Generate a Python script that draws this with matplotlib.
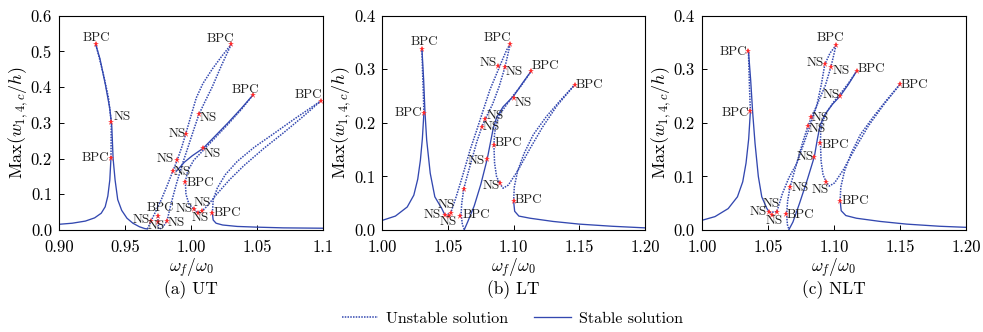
import matplotlib
matplotlib.use('Agg')
import matplotlib.pyplot as plt
from matplotlib.lines import Line2D

plt.rcParams['font.family'] = 'serif'
plt.rcParams['font.serif'] = ['cmr10']
plt.rcParams['mathtext.fontset'] = 'cm'
plt.rcParams['axes.unicode_minus'] = False

# ---------------- data: panel (a) UT ----------------
a_primary_x = [0.900, 0.910, 0.920, 0.927, 0.932, 0.935, 0.937, 0.9385, 0.9394]
a_primary_y = [0.016, 0.019, 0.025, 0.034, 0.047, 0.065, 0.095, 0.140, 0.203]
a_peak_u_x = [0.9394, 0.9396, 0.9375, 0.9340, 0.9300, 0.9278]
a_peak_u_y = [0.203, 0.302, 0.370, 0.430, 0.490, 0.5196]
a_peak_s_x = [0.9278, 0.9310, 0.9350, 0.9385, 0.9400, 0.9410, 0.9425, 0.9445, 0.9475, 0.9515, 0.9560, 0.9610, 0.9650, 0.9670]
a_peak_s_y = [0.5196, 0.480, 0.410, 0.340, 0.290, 0.200, 0.140, 0.085, 0.055, 0.033, 0.019, 0.009, 0.004, 0.003]
a_loop1l_x = [0.9670, 0.9697, 0.9730, 0.9775, 0.9820, 0.9864, 0.9896, 0.9930, 0.9960, 1.0000, 1.0040, 1.0090, 1.0160, 1.0230, 1.0305]
a_loop1l_y = [0.003, 0.025, 0.050, 0.085, 0.125, 0.166, 0.196, 0.232, 0.269, 0.320, 0.370, 0.410, 0.450, 0.485, 0.520]
a_loop1r_x = [1.0305, 1.0230, 1.0160, 1.0100, 1.0060, 1.0020, 0.9980, 0.9935, 0.9890, 0.9850, 0.9818, 0.9790, 0.9765]
a_loop1r_y = [0.520, 0.460, 0.400, 0.355, 0.3235, 0.280, 0.235, 0.185, 0.130, 0.075, 0.025, 0.010, 0.003]
a_stub_x = [0.9755, 0.9750, 0.9750]
a_stub_y = [0.003, 0.023, 0.039]
a_loop2a_x = [0.9890, 0.9950, 1.0010, 1.0093, 1.0180, 1.0280, 1.0380, 1.0472]
a_loop2a_y = [0.165, 0.190, 0.208, 0.229, 0.262, 0.300, 0.340, 0.379]
a_loop2b_x = [0.9957, 0.9975, 1.0020, 1.0090, 1.0180, 1.0280, 1.0380, 1.0472]
a_loop2b_y = [0.135, 0.165, 0.195, 0.222, 0.257, 0.296, 0.337, 0.379]
a_loop3a_x = [0.9957, 0.9962, 0.9985, 1.0023, 1.0050, 1.0080, 1.0120, 1.0190, 1.0290, 1.0400, 1.0550, 1.0700, 1.0850, 1.0982]
a_loop3a_y = [0.135, 0.100, 0.072, 0.058, 0.049, 0.052, 0.066, 0.098, 0.140, 0.180, 0.228, 0.272, 0.318, 0.361]
a_loop3b_x = [1.0162, 1.0168, 1.0200, 1.0260, 1.0350, 1.0480, 1.0620, 1.0780, 1.0982]
a_loop3b_y = [0.047, 0.085, 0.118, 0.155, 0.192, 0.232, 0.268, 0.310, 0.361]
a_tail_x = [1.0162, 1.0168, 1.0190, 1.0240, 1.0350, 1.0500, 1.0700, 1.1000]
a_tail_y = [0.047, 0.028, 0.019, 0.014, 0.010, 0.008, 0.006, 0.005]
a_pts_x = [0.9278, 0.9394, 0.9394, 1.0305, 1.0472, 1.0982, 1.0060, 0.9960, 1.0093, 0.9896,
           0.9864, 0.9957, 1.0023, 1.0050, 1.0080, 1.0162, 0.9697, 0.9750, 0.9750, 0.9818]
a_pts_y = [0.5196, 0.302, 0.203, 0.520, 0.379, 0.361, 0.3235, 0.269, 0.229, 0.196,
           0.166, 0.135, 0.058, 0.049, 0.052, 0.047, 0.025, 0.039, 0.023, 0.025]
a_pts_lab = ['BPC', 'NS', 'BPC', 'BPC', 'BPC', 'BPC', 'NS', 'NS', 'NS', 'NS',
             'NS', 'BPC', 'NS', 'NS', 'NS', 'BPC', 'NS', 'BPC', 'NS', 'NS']

# ---------------- data: panel (b) LT ----------------
b_primary_x = [1.000, 1.010, 1.019, 1.024, 1.027, 1.029, 1.0305, 1.0317]
b_primary_y = [0.018, 0.026, 0.043, 0.065, 0.095, 0.130, 0.170, 0.219]
b_peak_u_x = [1.0317, 1.0312, 1.0306, 1.0302]
b_peak_u_y = [0.219, 0.260, 0.300, 0.337]
b_peak_s_x = [1.0302, 1.0315, 1.0325, 1.0338, 1.0365, 1.0400, 1.0452, 1.0477]
b_peak_s_y = [0.337, 0.280, 0.220, 0.168, 0.106, 0.062, 0.0405, 0.028]
b_loop1l_x = [1.0477, 1.0520, 1.0560, 1.0610, 1.0668, 1.0720, 1.0769, 1.0820, 1.0871, 1.0910, 1.0947, 1.0975]
b_loop1l_y = [0.028, 0.031, 0.060, 0.100, 0.149, 0.187, 0.224, 0.262, 0.292, 0.315, 0.336, 0.348]
b_loop1r_x = [1.0975, 1.0934, 1.0890, 1.0840, 1.0784, 1.0759, 1.0720, 1.0680, 1.0640, 1.0620, 1.0605, 1.0600, 1.0610, 1.0625]
b_loop1r_y = [0.348, 0.304, 0.268, 0.235, 0.207, 0.193, 0.165, 0.130, 0.095, 0.076, 0.050, 0.030, 0.010, 0.001]
b_rise_x = [1.0625, 1.0650, 1.0700, 1.0750, 1.0799, 1.0825, 1.0845, 1.0870, 1.0920, 1.1000, 1.1070, 1.1135]
b_rise_y = [0.001, 0.015, 0.045, 0.085, 0.1325, 0.165, 0.190, 0.210, 0.230, 0.250, 0.275, 0.297]
b_loop2_x = [1.0850, 1.0855, 1.0870, 1.0900, 1.0950, 1.1000, 1.1060, 1.1135]
b_loop2_y = [0.158, 0.180, 0.200, 0.218, 0.235, 0.252, 0.270, 0.297]
b_loop3a_x = [1.0850, 1.0855, 1.0870, 1.0894, 1.0920, 1.0960, 1.1030, 1.1120, 1.1220, 1.1330, 1.1465]
b_loop3a_y = [0.158, 0.125, 0.100, 0.087, 0.078, 0.084, 0.110, 0.150, 0.192, 0.232, 0.271]
b_loop3b_x = [1.1000, 1.1005, 1.1030, 1.1080, 1.1150, 1.1250, 1.1360, 1.1465]
b_loop3b_y = [0.0535, 0.080, 0.110, 0.143, 0.178, 0.212, 0.243, 0.271]
b_tail_x = [1.1000, 1.1008, 1.1040, 1.1125, 1.1300, 1.1500, 1.1750, 1.2000]
b_tail_y = [0.0535, 0.035, 0.026, 0.022, 0.016, 0.011, 0.007, 0.004]
b_pts_x = [1.0302, 1.0317, 1.0975, 1.0881, 1.0934, 1.1135, 1.1465, 1.1000, 1.0784, 1.0759,
           1.0850, 1.0799, 1.0894, 1.1000, 1.0620, 1.0592, 1.0477, 1.0520, 1.0505]
b_pts_y = [0.337, 0.219, 0.348, 0.307, 0.304, 0.297, 0.271, 0.246, 0.207, 0.193,
           0.158, 0.1325, 0.087, 0.0535, 0.076, 0.0267, 0.028, 0.031, 0.026]
b_pts_lab = ['BPC', 'BPC', 'BPC', 'NS', 'NS', 'BPC', 'BPC', 'NS', 'NS', 'NS',
             'BPC', 'NS', 'NS', 'BPC', '', 'BPC', 'NS', 'NS', 'NS']

# ---------------- data: panel (c) NLT ----------------
c_primary_x = [1.000, 1.010, 1.020, 1.027, 1.031, 1.0335, 1.0355, 1.0368]
c_primary_y = [0.018, 0.025, 0.040, 0.062, 0.090, 0.125, 0.170, 0.222]
c_peak_u_x = [1.0368, 1.0362, 1.0357, 1.0353]
c_peak_u_y = [0.222, 0.260, 0.300, 0.335]
c_peak_s_x = [1.0353, 1.0370, 1.0385, 1.0403, 1.0428, 1.0454, 1.0492, 1.0512]
c_peak_s_y = [0.335, 0.280, 0.220, 0.162, 0.100, 0.062, 0.0405, 0.033]
c_loop1l_x = [1.0512, 1.0568, 1.0610, 1.0660, 1.0718, 1.0770, 1.0820, 1.0870, 1.0905, 1.0931, 1.0970, 1.1016]
c_loop1l_y = [0.033, 0.034, 0.068, 0.098, 0.124, 0.160, 0.195, 0.232, 0.272, 0.309, 0.330, 0.345]
c_loop1r_x = [1.1016, 1.0978, 1.0935, 1.0880, 1.0830, 1.0805, 1.0765, 1.0725, 1.0690, 1.0668, 1.0650, 1.0642, 1.0648, 1.0660]
c_loop1r_y = [0.345, 0.305, 0.270, 0.238, 0.210, 0.195, 0.165, 0.130, 0.100, 0.080, 0.055, 0.029, 0.010, 0.001]
c_rise_x = [1.0660, 1.0690, 1.0740, 1.0800, 1.0852, 1.0875, 1.0895, 1.0930, 1.0990, 1.1047, 1.1110, 1.1173]
c_rise_y = [0.001, 0.015, 0.050, 0.095, 0.137, 0.170, 0.195, 0.215, 0.235, 0.250, 0.272, 0.297]
c_loop2_x = [1.0898, 1.0900, 1.0915, 1.0945, 1.0995, 1.1050, 1.1110, 1.1173]
c_loop2_y = [0.162, 0.185, 0.203, 0.220, 0.238, 0.255, 0.274, 0.297]
c_loop3a_x = [1.0898, 1.0903, 1.0918, 1.0941, 1.0965, 1.1005, 1.1070, 1.1160, 1.1260, 1.1380, 1.1500]
c_loop3a_y = [0.162, 0.128, 0.103, 0.090, 0.082, 0.088, 0.112, 0.152, 0.194, 0.235, 0.272]
c_loop3b_x = [1.1047, 1.1052, 1.1080, 1.1130, 1.1200, 1.1300, 1.1400, 1.1500]
c_loop3b_y = [0.0547, 0.080, 0.110, 0.143, 0.178, 0.212, 0.243, 0.272]
c_tail_x = [1.1047, 1.1055, 1.1090, 1.1170, 1.1350, 1.1550, 1.1800, 1.2000]
c_tail_y = [0.0547, 0.036, 0.027, 0.022, 0.016, 0.011, 0.007, 0.005]
c_pts_x = [1.0353, 1.0368, 1.1016, 1.0931, 1.0978, 1.1173, 1.1500, 1.1047, 1.0830, 1.0805,
           1.0898, 1.0852, 1.0941, 1.1047, 1.0668, 1.0638, 1.0512, 1.0568, 1.0535]
c_pts_y = [0.335, 0.222, 0.345, 0.309, 0.305, 0.297, 0.272, 0.250, 0.210, 0.195,
           0.162, 0.137, 0.090, 0.0547, 0.080, 0.029, 0.033, 0.034, 0.028]
c_pts_lab = ['BPC', 'BPC', 'BPC', 'NS', 'NS', 'BPC', 'BPC', 'NS', 'NS', 'NS',
             'BPC', 'NS', 'NS', 'BPC', 'NS', 'BPC', 'NS', 'NS', 'NS']

# ticks / labels
a_xticks = [0.90, 0.95, 1.00, 1.05, 1.10]
a_xticklabels = ['0.90', '0.95', '1.00', '1.05', '1.1']
bc_xticks = [1.00, 1.05, 1.10, 1.15, 1.20]
bc_xticklabels = ['1.00', '1.05', '1.10', '1.15', '1.20']
a_yticks = [0.0, 0.1, 0.2, 0.3, 0.4, 0.5, 0.6]
bc_yticks = [0.0, 0.1, 0.2, 0.3, 0.4]
panel_titles = ['(a) UT', '(b) LT', '(c) NLT']

# ---------------- layout / style (not data) ----------------
LINE_C = '#3348b0'
MARK_C = '#ff2a2a'
SOLID = dict(color=LINE_C, lw=0.95, ls='-')
DOTTED = dict(color=LINE_C, lw=1.1, ls=(0, (1, 0.8)))

# label offsets (pixels, up positive) relative to marker
a_off = [(1, 6.7), (11.7, 5), (-15.3, -0.7), (-10.7, 5), (-7.7, 5), (-12.3, 5.7), (9.7, -3), (-8.7, 0),
         (9, -6), (-11.7, 0.7), (9, -1), (14.7, -1), (-9.7, 0), (2.7, -5.3), (1, 8.7), (14.7, 0),
         (-9.7, 1), (2.7, 7.7), (-1.3, -4.3), (9.7, -2)]
b_off = [(2, 7.7), (-15.3, -0.7), (-13, 6), (-10, 2.7), (9.3, -4.7), (14.3, 5), (14.3, 0), (9.7, -4.3),
         (9.7, 3), (9.7, -0.7), (15, 2), (-10.7, -1.7), (-8, -2.7), (15.3, 1), (0, 0), (16.3, 0.7),
         (-12.3, 0), (-4.7, 8.7), (0, -5.6)]
c_off = [(-14.7, -1), (-15, -2.3), (-5.7, 7), (-9.7, 1.7), (10.7, -4.7), (14.7, 1.7), (14, -0.7),
         (-9, 1.3), (8.7, -0.7), (9, -3.7), (14.7, -1.7), (-9.3, 0), (-6, -7.7), (15.3, 0),
         (10.3, -0.7), (14.3, -0.7), (-11, 0), (-5.7, 8.3), (1.9, -6)]

panels = [
    dict(curves=[(a_primary_x, a_primary_y, SOLID), (a_peak_u_x, a_peak_u_y, DOTTED),
                 (a_peak_s_x, a_peak_s_y, SOLID), (a_loop1l_x, a_loop1l_y, DOTTED),
                 (a_loop1r_x, a_loop1r_y, DOTTED), (a_stub_x, a_stub_y, DOTTED),
                 (a_loop2a_x, a_loop2a_y, SOLID), (a_loop2b_x, a_loop2b_y, DOTTED),
                 (a_loop3a_x, a_loop3a_y, DOTTED), (a_loop3b_x, a_loop3b_y, DOTTED),
                 (a_tail_x, a_tail_y, SOLID)],
         px=a_pts_x, py=a_pts_y, lab=a_pts_lab, off=a_off,
         xlim=(0.90, 1.10), ylim=(0.0, 0.6), xt=a_xticks, xtl=a_xticklabels, yt=a_yticks,
         rect=[0.0600, 0.3072, 0.2686, 0.6455]),
    dict(curves=[(b_primary_x, b_primary_y, SOLID), (b_peak_u_x, b_peak_u_y, DOTTED),
                 (b_peak_s_x, b_peak_s_y, SOLID), (b_loop1l_x, b_loop1l_y, DOTTED),
                 (b_loop1r_x, b_loop1r_y, DOTTED), (b_rise_x, b_rise_y, SOLID),
                 (b_loop2_x, b_loop2_y, DOTTED), (b_loop3a_x, b_loop3a_y, DOTTED),
                 (b_loop3b_x, b_loop3b_y, DOTTED), (b_tail_x, b_tail_y, SOLID)],
         px=b_pts_x, py=b_pts_y, lab=b_pts_lab, off=b_off,
         xlim=(1.00, 1.20), ylim=(0.0, 0.4), xt=bc_xticks, xtl=bc_xticklabels, yt=bc_yticks,
         rect=[0.3889, 0.3072, 0.2672, 0.6455]),
    dict(curves=[(c_primary_x, c_primary_y, SOLID), (c_peak_u_x, c_peak_u_y, DOTTED),
                 (c_peak_s_x, c_peak_s_y, SOLID), (c_loop1l_x, c_loop1l_y, DOTTED),
                 (c_loop1r_x, c_loop1r_y, DOTTED), (c_rise_x, c_rise_y, SOLID),
                 (c_loop2_x, c_loop2_y, DOTTED), (c_loop3a_x, c_loop3a_y, DOTTED),
                 (c_loop3b_x, c_loop3b_y, DOTTED), (c_tail_x, c_tail_y, SOLID)],
         px=c_pts_x, py=c_pts_y, lab=c_pts_lab, off=c_off,
         xlim=(1.00, 1.20), ylim=(0.0, 0.4), xt=bc_xticks, xtl=bc_xticklabels, yt=bc_yticks,
         rect=[0.7139, 0.3072, 0.2689, 0.6455]),
]

fig = plt.figure(figsize=(9.83, 3.32), dpi=100)
for p, title in zip(panels, panel_titles):
    ax = fig.add_axes(p['rect'])
    for xs, ys, st in p['curves']:
        ax.plot(xs, ys, **st)
    ax.plot(p['px'], p['py'], ls='none', marker='*', ms=4.5, color=MARK_C, mew=0, zorder=5)
    for x, y, t, (dx, dy) in zip(p['px'], p['py'], p['lab'], p['off']):
        if t:
            ax.annotate(t, (x, y), xytext=(dx * 0.72, dy * 0.72), textcoords='offset points',
                        ha='center', va='center', fontsize=9.5, color='#222222', zorder=6)
    ax.set_xlim(*p['xlim'])
    ax.set_ylim(*p['ylim'])
    ax.set_xticks(p['xt'])
    ax.set_xticklabels(p['xtl'])
    ax.set_yticks(p['yt'])
    ax.set_yticklabels(['%.1f' % v for v in p['yt']])
    ax.tick_params(direction='in', length=3.5, width=0.7, labelsize=12, top=False, right=False)
    ax.tick_params(axis='x', pad=7)
    ax.tick_params(axis='y', pad=5)
    for s in ax.spines.values():
        s.set_linewidth(0.8)
    ax.text(0.5, -0.18, r'$\omega_f/\omega_0$', transform=ax.transAxes, ha='center', va='center',
            fontsize=12.5)
    ax.text(0.5, -0.277, title, transform=ax.transAxes, ha='center', va='center', fontsize=12.5)
    ax.text(-0.155, 0.5, r'Max$(w_{1,4,c}/h)$', transform=ax.transAxes, rotation=90,
            ha='center', va='center', fontsize=13)

handles = [Line2D([], [], **DOTTED), Line2D([], [], **SOLID)]
fig.legend(handles, ['Unstable solution', 'Stable solution'], loc='center',
           bbox_to_anchor=(0.521, 0.040), ncol=2, frameon=False, fontsize=11.5,
           handlelength=2.3, handletextpad=0.5, columnspacing=1.6)

fig.savefig('out.png', dpi=100)
